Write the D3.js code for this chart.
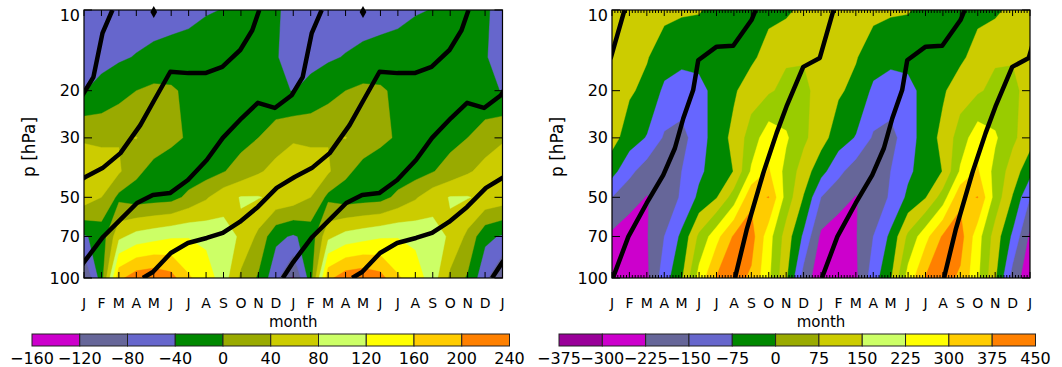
<!DOCTYPE html>
<html><head><meta charset="utf-8">
<script src="https://cdn.jsdelivr.net/npm/d3@7/dist/d3.min.js"></script>
<style>
html,body{margin:0;padding:0;background:#fff;}
svg text{font-family:"DejaVu Sans","Liberation Sans",Arial,sans-serif;fill:#000;}
</style></head><body>
<svg id="chart" width="1062" height="367"></svg>
<script>
// ---------------- data ----------------
const monthTicks = ["J","F","M","A","M","J","J","A","S","O","N","D","J","F","M","A","M","J","J","A","S","O","N","D","J"];
const pressureLevels = [100, 70, 50, 40, 30, 20, 15, 10];
const pressureTicks = [10, 20, 30, 50, 70, 100];

// Left panel: Jan..Dec values at each pressure level (annual cycle, shown for two years)
const left100 = [-125, -20, 190, 222, 230, 215, 165, 140, 100, 30, -5, -70];
const left70  = [-45, -25, 70, 95, 105, 115, 118, 110, 95, 75, 30, -30];
const left50  = [62, 40, -10, -22, -18, -15, 10, 35, 65, 82, 82, 72];
const left40  = [65, 60, 45, 10, -15, -25, -25, -18, -2, 15, 35, 52];
const left30  = [35, 32, 38, 41, 25, 10, -5, -15, -18, -12, 0, 22];
const left20  = [-41, -30, -15, 0, 8, 5, -8, -15, -20, -25, -30, -35];
const left15  = [-52, -50, -45, -38, -30, -25, -22, -20, -22, -25, -30, -38];
const left10  = [-48, -55, -58, -60, -60, -57, -52, -43, -39, -30, -30, -37];

// Right panel
const right100 = [-280, -280, -240, -110, -10, 180, 305, 330, 287, 163, 10, -180];
const right70  = [-240, -260, -230, -150, -60, 90, 200, 310, 330, 180, 40, -90];
const right50  = [-150, -200, -228, -200, -140, -60, -5, 110, 285, 302, 120, -5];
const right40  = [-50, -130, -190, -195, -150, -90, -40, 2, 160, 232, 125, 40];
const right30  = [30, -40, -80, -160, -175, -110, -40, 20, 110, 195, 160, 90];
const right20  = [50, 10, -20, -90, -110, -100, -50, -10, 40, 65, 95, 90];
const right15  = [55, 40, 5, -40, -55, -50, -40, -25, -15, 30, 65, 70];
const right10  = [40, 50, 30, 20, 10, 5, -20, -30, -30, -20, -15, 20];

// contour levels and colours
const leftLevels = [-160, -120, -80, -40, 0, 40, 80, 120, 160, 200, 240];
const leftColors = ["#cc00cc","#666699","#6666cc","#008800","#99aa00","#cccc00","#ccff66","#ffff00","#ffcc00","#ff8000"];
const rightLevels = [-375, -300, -225, -150, -75, 0, 75, 150, 225, 300, 375, 450];
const rightBarColors = ["#990099","#cc00cc","#666699","#6666cc","#008800","#99aa00","#cccc00","#ccff66","#ffff00","#ffcc00","#ff8000"];
const rightFillColors = ["#990099","#cc00cc","#666699","#6666ff","#008800","#cccc00","#99cc00","#ffff00","#ffcc00","#ff8000","#ff8000"];

// thick black lines: [month, hPa]
const leftCurveA = [[-0.6,100],[0,87.2],[1.09,70.3],[2.06,60.8],[3.04,52.5],[3.95,49.0],[4.93,48.2],[5.96,43.1],[7.04,36.3],[7.96,30.0],[9.05,25.3],[9.97,22.2],[10.94,23.2],[11.91,20.8],[12.54,17.8],[13.06,12.2],[13.63,10]];
const leftCurveB = [[3.38,100],[3.95,95.0],[4.98,80.7],[5.96,74.0],[7.04,70.9],[7.96,67.9],[8.93,61.8],[9.97,54.3],[11.05,46.1],[12.08,42.0],[13.06,38.9],[14.09,34.2],[15.23,26.9],[15.98,22.0],[16.95,17.0],[17.98,17.2],[18.96,17.2],[19.93,16.3],[20.96,14.1],[21.65,11.9],[22.05,10]];
const leftMarkers = [[4, 10], [16, 10]];
const rightCurveC = [[0.05,100],[0.94,70.1],[1.99,52.6],[2.94,41.3],[3.61,32.8],[4.09,25.4],[4.66,19.9],[4.95,15.4],[6.01,13.7],[6.96,13.6],[8.01,10.9],[8.25,10]];
const rightCurveD = [[7.06,100],[7.73,66.2],[8.68,40.7],[9.45,28.8],[10.02,22.9],[10.98,16.3],[11.93,15.1],[12.72,10]];

// ---------------- drawing ----------------
const svg = d3.select("#chart");
const Y0 = 10, Y1 = 278;

function drawPanel(id, x0, x1, rows, levels, fills, curves, markers, denseTicks) {
  const g = svg.append("g");
  const xs = d3.scaleLinear().domain([0, 24]).range([x0, x1]);
  const ys = d3.scaleLog().domain([100, 10]).range([Y1, Y0]);
  const n = 25, m = pressureLevels.length;
  const grid = new Array(n * m);
  for (let j = 0; j < m; j++) for (let i = 0; i < n; i++) grid[j * n + i] = rows[j][i % 12];

  svg.append("clipPath").attr("id", "clip" + id)
    .append("rect").attr("x", x0).attr("y", Y0).attr("width", x1 - x0).attr("height", Y1 - Y0);

  const mapX = c => xs(Math.max(0, Math.min(n - 1, c - 0.5)));
  const mapY = c => {
    const t = Math.max(0, Math.min(m - 1, c - 0.5));
    const k = Math.min(m - 2, Math.floor(t));
    const f = t - k;
    const lp = Math.log10(pressureLevels[k]) * (1 - f) + Math.log10(pressureLevels[k + 1]) * f;
    return ys(Math.pow(10, lp));
  };
  const thresholds = levels.slice(0, levels.length - 1);
  const contours = d3.contours().size([n, m]).thresholds(thresholds)(grid);
  const pg = g.append("g").attr("clip-path", `url(#clip${id})`);
  contours.forEach((c, i) => {
    const d = c.coordinates.map(poly => poly.map(ring =>
      "M" + ring.map(p => mapX(p[0]).toFixed(2) + "," + mapY(p[1]).toFixed(2)).join("L") + "Z").join("")).join("");
    pg.append("path").attr("d", d).attr("fill", fills[i]).attr("fill-rule", "evenodd")
      .attr("stroke", fills[i]).attr("stroke-width", 0.4);
  });

  const line = d3.line().x(d => xs(d[0])).y(d => ys(d[1]));
  curves.forEach(cv => {
    cv.offsets.forEach(off => {
      pg.append("path").attr("d", line(cv.pts.map(p => [p[0] + off, p[1]])))
        .attr("fill", "none").attr("stroke", "#000").attr("stroke-width", 4.5)
        .attr("stroke-linejoin", "round").attr("stroke-linecap", "butt");
    });
  });

  // frame
  g.append("rect").attr("x", x0).attr("y", Y0).attr("width", x1 - x0).attr("height", Y1 - Y0)
    .attr("fill", "none").attr("stroke", "#000").attr("stroke-width", 1.2);

  markers.forEach(mk => {
    g.append("path").attr("d", d3.symbol(d3.symbolDiamond, 40)())
      .attr("transform", `translate(${xs(mk[0])},${ys(mk[1]) + 2})`).attr("fill", "#000");
  });

  // x ticks
  const tickStep = denseTicks ? 1 / 6 : 1;
  for (let k = 0; k <= Math.round(24 / tickStep); k++) {
    const v = k * tickStep;
    const major = Math.abs(v - Math.round(v)) < 1e-6;
    const len = major ? 6 : 3;
    const x = xs(v);
    g.append("line").attr("x1", x).attr("x2", x).attr("y1", Y1).attr("y2", Y1 - len).attr("stroke", "#000").attr("stroke-width", 1);
    g.append("line").attr("x1", x).attr("x2", x).attr("y1", Y0).attr("y2", Y0 + len).attr("stroke", "#000").attr("stroke-width", 1);
  }
  // y ticks
  pressureTicks.forEach(p => {
    const y = ys(p);
    g.append("line").attr("x1", x0).attr("x2", x0 + 8).attr("y1", y).attr("y2", y).attr("stroke", "#000");
    g.append("line").attr("x1", x1).attr("x2", x1 - 8).attr("y1", y).attr("y2", y).attr("stroke", "#000");
    g.append("text").attr("x", x0 - 4).attr("y", Math.max(y + 5.5, 21)).attr("text-anchor", "end")
      .attr("font-size", 16).text(p);
  });
  monthTicks.forEach((t, i) => {
    g.append("text").attr("x", xs(i)).attr("y", 307.5).attr("text-anchor", "middle")
      .attr("font-size", 14).text(t);
  });
  g.append("text").attr("x", (x0 + x1) / 2).attr("y", 327).attr("text-anchor", "middle")
    .attr("font-size", 15).text("month");
  g.append("text").attr("transform", `translate(${x0 - 55},${(Y0 + Y1) / 2 + 3}) rotate(-90)`)
    .attr("text-anchor", "middle").attr("dominant-baseline", "central")
    .attr("font-size", 17).text("p [hPa]");
}

function drawBar(bx0, bx1, levels, colors) {
  const g = svg.append("g");
  const bs = d3.scaleLinear().domain([levels[0], levels[levels.length - 1]]).range([bx0, bx1]);
  for (let i = 0; i < colors.length; i++) {
    g.append("rect").attr("x", bs(levels[i])).attr("y", 334).attr("width", bs(levels[i + 1]) - bs(levels[i]))
      .attr("height", 12).attr("fill", colors[i]).attr("stroke", "#222").attr("stroke-width", 1);
  }
  levels.forEach(v => {
    g.append("text").attr("x", bs(v)).attr("y", 364).attr("text-anchor", "middle")
      .attr("font-size", 16).text(v < 0 ? "\u2212" + Math.abs(v) : String(v));
  });
}

drawPanel("L", 84, 502.5,
  [left100, left70, left50, left40, left30, left20, left15, left10],
  leftLevels, leftColors,
  [{pts: leftCurveA, offsets: [-12, 0, 12, 24]}, {pts: leftCurveB, offsets: [-12, 0, 12]}],
  leftMarkers, false);
drawPanel("R", 612, 1030,
  [right100, right70, right50, right40, right30, right20, right15, right10],
  rightLevels, rightFillColors,
  [{pts: rightCurveC, offsets: [0, 12]}, {pts: rightCurveD, offsets: [-12, 0, 12]}],
  [], true);
drawBar(32, 509.5, leftLevels, leftColors);
drawBar(559, 1035.5, rightLevels, rightBarColors);
</script>
</body></html>
